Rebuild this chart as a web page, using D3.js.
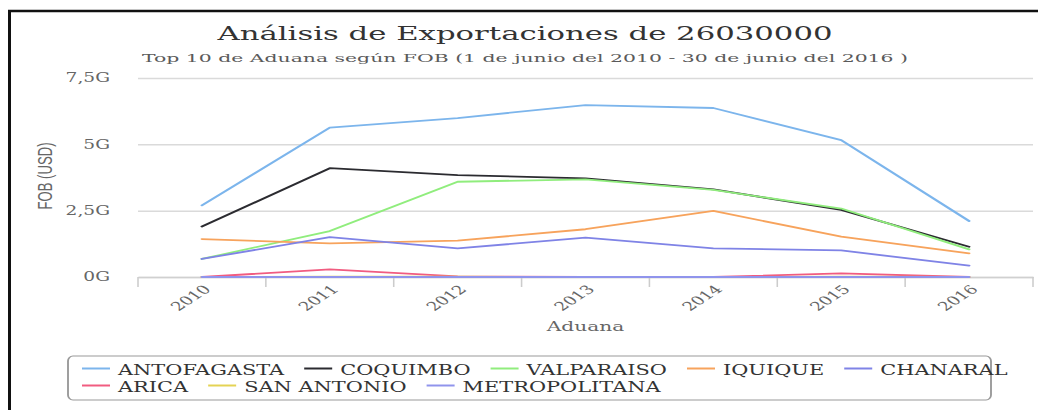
<!DOCTYPE html>
<html>
<head>
<meta charset="utf-8">
<script src="https://cdn.jsdelivr.net/npm/d3@7"></script>
<style>
  html, body { margin: 0; padding: 0; background: #fff; }
  svg { display: block; }
</style>
</head>
<body>
<svg id="chart" width="1038" height="410"></svg>
<script>
// Export values per customs office, in billions of USD (G)
const years = ["2010", "2011", "2012", "2013", "2014", "2015", "2016"];
const seriesNames = ["ANTOFAGASTA", "COQUIMBO", "VALPARAISO", "IQUIQUE", "CHANARAL",
                     "ARICA", "SAN ANTONIO", "METROPOLITANA"];
const antofagasta   = [2.70, 5.63, 5.99, 6.48, 6.37, 5.16, 2.11];
const coquimbo      = [1.90, 4.10, 3.84, 3.72, 3.30, 2.53, 1.14];
const valparaiso    = [0.68, 1.73, 3.59, 3.68, 3.28, 2.58, 1.04];
const iquique       = [1.43, 1.27, 1.37, 1.80, 2.49, 1.52, 0.89];
const chanaral      = [0.68, 1.50, 1.08, 1.48, 1.08, 1.00, 0.43];
const arica         = [0.00, 0.29, 0.02, 0.00, 0.00, 0.14, 0.00];
const sanAntonio    = [0.00, 0.01, 0.01, 0.00, 0.00, 0.01, 0.00];
const metropolitana = [0.00, 0.00, 0.00, 0.00, 0.00, 0.00, 0.00];
const yTicks = [0, 2.5, 5, 7.5];
const yTickLabels = ["0G", "2,5G", "5G", "7,5G"];
const seriesColors = ["#7cb5ec", "#2b2b30", "#90ed7d", "#f7a35c", "#7f83e6",
                      "#f15c80", "#e4d354", "#9094ec"];

const seriesValues = [antofagasta, coquimbo, valparaiso, iquique, chanaral,
                      arica, sanAntonio, metropolitana];
const series = seriesNames.map((name, i) => ({
  name, color: seriesColors[i],
  points: years.map((yr, j) => ({ year: yr, value: seriesValues[i][j] }))
}));

const svg = d3.select("#chart");
const SERIF = "'DejaVu Serif', serif";

// Outer frame
svg.append("rect").attr("width", 1038).attr("height", 410).attr("fill", "#fff");
svg.append("line").attr("x1", 8).attr("x2", 1038).attr("y1", 11).attr("y2", 11)
  .attr("stroke", "#111").attr("stroke-width", 2.5);
svg.append("line").attr("x1", 9.5).attr("x2", 9.5).attr("y1", 10).attr("y2", 410)
  .attr("stroke", "#111").attr("stroke-width", 3);

// The chart is laid out in a horizontally widened frame
const K = 1.55;
const g = svg.append("g").attr("transform", `scale(${K},1)`);

const x = d3.scaleBand().domain(years).range([138 / K, 1033 / K]);
const y = d3.scaleLinear().domain([0, 7.5]).range([277, 78]);
const [x0, x1] = x.range();

// Title and subtitle
g.append("text").attr("x", 525 / K).attr("y", 40).attr("text-anchor", "middle")
  .attr("font-family", SERIF).attr("font-size", 18.5).attr("fill", "#333")
  .attr("textLength", 615 / K).attr("lengthAdjust", "spacingAndGlyphs")
  .text("Análisis de Exportaciones de 26030000");
g.append("text").attr("x", 525 / K).attr("y", 62).attr("text-anchor", "middle")
  .attr("font-family", SERIF).attr("font-size", 11.5).attr("fill", "#5a5a5a")
  .attr("textLength", 766 / K).attr("lengthAdjust", "spacingAndGlyphs")
  .text("Top 10 de Aduana según FOB (1 de junio del 2010 - 30 de junio del 2016 )");

// Y axis with grid lines
const yAxis = d3.axisLeft(y).tickValues(yTicks)
  .tickFormat(d => yTickLabels[yTicks.indexOf(d)])
  .tickSize(-(x1 - x0)).tickPadding(28 / K);
const yg = g.append("g").attr("transform", `translate(${x0},0)`).call(yAxis);
yg.select(".domain").remove();
yg.selectAll(".tick line").attr("stroke", "#dadada").attr("stroke-width", 1.5);
yg.selectAll(".tick text").attr("font-family", SERIF).attr("font-size", 12)
  .attr("fill", "#666");

// Y axis title
g.append("text")
  .attr("transform", `translate(${52 / K},176) rotate(-90)`)
  .attr("text-anchor", "middle")
  .attr("font-family", "'Liberation Sans', sans-serif").attr("font-size", 13)
  .attr("fill", "#666").attr("textLength", 67).attr("lengthAdjust", "spacingAndGlyphs")
  .text("FOB (USD)");

// X axis
const xAxis = d3.axisBottom(x).tickSize(0).tickSizeOuter(0);
const xg = g.append("g").attr("transform", `translate(0,${y(0)})`).call(xAxis);
xg.select(".domain").attr("stroke", "#d0d0d0").attr("stroke-width", 1.5);
xg.selectAll(".tick text")
  .attr("font-family", SERIF).attr("font-size", 12).attr("fill", "#666")
  .attr("text-anchor", "end").attr("x", 0).attr("y", 0).attr("dy", 0)
  .attr("transform", `translate(${10 / K},13) rotate(-45)`);

// Tick marks on category boundaries
g.append("g").selectAll("line")
  .data(d3.range(years.length + 1))
  .join("line")
  .attr("x1", i => x0 + i * x.step()).attr("x2", i => x0 + i * x.step())
  .attr("y1", y(0)).attr("y2", y(0) + 10)
  .attr("stroke", "#ccc").attr("stroke-width", 1);

// X axis title
g.append("text").attr("x", (x0 + x1) / 2).attr("y", 331).attr("text-anchor", "middle")
  .attr("font-family", SERIF).attr("font-size", 13).attr("fill", "#666")
  .text("Aduana");

// Series lines
const line = d3.line()
  .x(d => x(d.year) + x.bandwidth() / 2)
  .y(d => y(d.value));
g.append("g").selectAll("path")
  .data(series)
  .join("path")
  .attr("d", d => line(d.points))
  .attr("fill", "none")
  .attr("stroke", d => d.color)
  .attr("stroke-width", 1.8)
  .attr("stroke-linejoin", "round")
  .attr("stroke-linecap", "round");

// Legend
g.append("rect")
  .attr("x", 68 / K).attr("y", 356)
  .attr("width", (991 - 68) / K).attr("height", 44)
  .attr("rx", 5 / K).attr("ry", 5)
  .attr("fill", "none").attr("stroke", "#999").attr("stroke-width", 1.2);

const legend = g.append("g");
const startX = 82 / K, rowH = 17, limit = 1010 / K;
let lx = startX, row = 0;
series.forEach(s => {
  const item = legend.append("g");
  const t = item.append("text")
    .attr("font-family", SERIF).attr("font-size", 14.5).attr("fill", "#333")
    .text(s.name);
  // slightly condensed legend labels
  const tw = t.node().getComputedTextLength() * 0.93;
  t.attr("textLength", tw).attr("lengthAdjust", "spacingAndGlyphs");
  const w = 36 / K + tw;
  if (lx > startX && lx + w > limit) { row++; lx = startX; }
  const by = 375 + row * rowH;
  t.attr("x", lx + 36 / K).attr("y", by);
  item.append("line")
    .attr("x1", lx).attr("x2", lx + 28 / K)
    .attr("y1", by - 6.5).attr("y2", by - 6.5)
    .attr("stroke", s.color).attr("stroke-width", 2);
  lx += w + 20 / K;
});
</script>
</body>
</html>
